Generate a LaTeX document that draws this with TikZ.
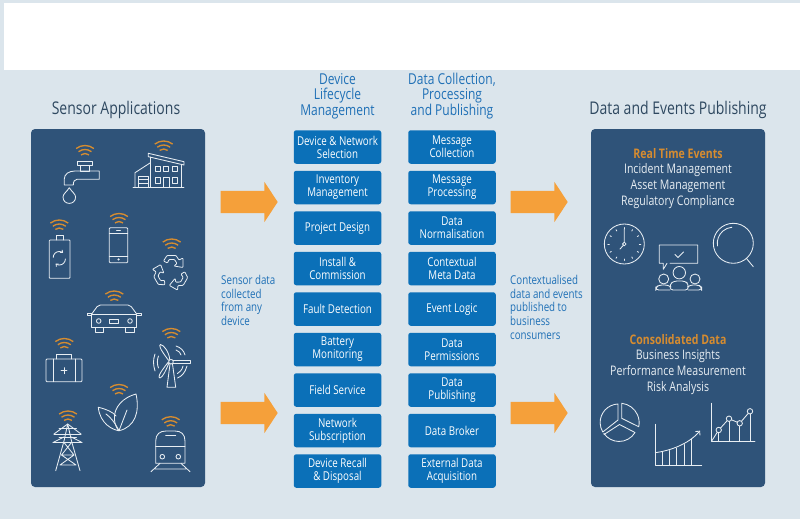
\documentclass[tikz,border=0pt]{standalone}
\usepackage{fontspec}
\setmainfont{Open Sans}[FakeStretch=0.8]
\usepackage{xcolor}
\usetikzlibrary{arrows.meta,positioning,calc,shapes.arrows}
\definecolor{pagebg}{RGB}{219,229,236}
\definecolor{panelblue}{RGB}{47,83,121}
\definecolor{boxblue}{RGB}{11,112,184}
\definecolor{arroworange}{RGB}{245,160,58}
\definecolor{wifiorange}{RGB}{214,140,48}
\definecolor{headblue}{RGB}{31,112,182}
\definecolor{headgrey}{RGB}{46,72,96}
\definecolor{iconline}{RGB}{232,238,243}

\tikzset{
    panel/.style={fill=panelblue, rounded corners=4pt},
    block/.style={fill=boxblue, text=white, rounded corners=2.5pt, minimum width=87.5pt, minimum height=33.5pt,
        inner sep=0pt, align=center, font=\fontsize{12.2}{13}\selectfont},
    heading/.style={text=headblue, align=center, inner sep=0pt, font=\fontsize{15}{15.7}\selectfont},
    bigheading/.style={text=headgrey, inner sep=0pt, font=\fontsize{17.5}{18}\selectfont},
    note/.style={text=headblue, align=left, inner sep=0pt, font=\fontsize{12.2}{13.7}\selectfont},
    paneltext/.style={text=iconline, align=center, inner sep=0pt, font=\fontsize{13.2}{15.9}\selectfont},
    panelhead/.style={text=wifiorange, inner sep=0pt, font=\fontsize{13.2}{15}\selectfont\bfseries},
    blockarrow/.style={single arrow, fill=arroworange, minimum height=57pt, inner xsep=0pt, inner ysep=11pt,
        single arrow head extend=9pt, single arrow tip angle=113},
    icon/.style={draw=iconline, line width=0.85pt, line join=round, line cap=round},
    wifi/.pic={
        \foreach \r in {6.5,10.5,14.5}
            \draw[wifiorange, line width=1.35pt] (232:\r) arc[start angle=232, end angle=308, radius=\r];
    }
}

\begin{document}
\begin{tikzpicture}[x=1pt, y=-1pt]
    \useasboundingbox (0,0) rectangle (800,519);
    \fill[pagebg] (0,0) rectangle (800,519);
    \fill[white] (4,3) rectangle (800,70);

    % outer panels
    \fill[panel] (31,129) rectangle (205,487);
    \fill[panel] (591,129) rectangle (765,487);

    % headings
    \node[bigheading] (sensorhead) at (116,109.5) {Sensor Applications};
    \node[bigheading] (publishhead) at (678,109.5) {Data and Events Publishing};
    \node[heading] (lifehead) at (337.5,96) {Device\\Lifecycle\\Management};
    \node[heading] (datahead) at (452,96) {Data Collection,\\Processing\\and Publishing};

    % lifecycle column
    \foreach \name/\txt [count=\i from 0] in {
        devsel/{Device \& Network\\Selection}, inventory/{Inventory\\Management}, design/{Project Design},
        install/{Install \&\\Commission}, fault/{Fault Detection}, battery/{Battery\\Monitoring},
        field/{Field Service}, network/{Network\\Subscription}, recall/{Device Recall\\\& Disposal}}
        \node[block] (\name) at (337.5,147+40.5*\i) {\txt};

    % data column
    \foreach \name/\txt [count=\i from 0] in {
        msgcol/{Message\\Collection}, msgproc/{Message\\Processing}, norm/{Data\\Normalisation},
        meta/{Contextual\\Meta Data}, logic/{Event Logic}, perm/{Data\\Permissions},
        pub/{Data\\Publishing}, broker/{Data Broker}, ext/{External Data\\Acquisition}}
        \node[block] (\name) at (452,147+40.5*\i) {\txt};

    % big arrows
    \node[blockarrow] (inarrowa) at (245.5,202) {};
    \node[blockarrow] (inarrowb) at (245.5,413) {};
    \node[blockarrow] (outarrowa) at (535.5,202) {};
    \node[blockarrow] (outarrowb) at (535.5,413) {};

    % side notes
    \node[note, anchor=north west] (sensornote) at (221,275) {Sensor data\\collected\\from any\\device};
    \node[note, anchor=north west] (pubnote) at (510,275) {Contextualised\\data and events\\published to\\business\\consumers};

    % right panel text
    \node[panelhead] (rtevents) at (678,154) {Real Time Events};
    \node[paneltext, below=4.2pt of rtevents] (rtlist) {Incident Management\\Asset Management\\Regulatory Compliance};
    \node[panelhead] (consol) at (678,340) {Consolidated Data};
    \node[paneltext, below=4.2pt of consol] (consollist) {Business Insights\\Performance Measurement\\Risk Analysis};

    % wifi marks over the devices
    \foreach \x/\y in {85/160,163.7/155.5,59.3/234.5,119/228,171.7/253.5,114.3/305.5,64.3/353,171.3/343,119/399,68/425.5,170.7/431.2}
        \pic at (\x,\y) {wifi};

    % tap
    \draw[icon] (77.3,161) rectangle (92.7,165);
    \draw[icon] (80,165) rectangle (89,171);
    \draw[icon] (99.3,171) -- (99.3,179.3) -- (77,179.3) .. controls (74.5,179.3) and (73.3,181.5) .. (73.3,185) -- (64.3,185)
        -- (64.3,179) .. controls (64.3,174) and (69,171) .. (75,171) -- cycle;
    \draw[icon] (69.3,187.7) .. controls (67,191.5) and (63,194) .. (63,197) .. controls (63,205.5) and (75.6,205.5) .. (75.6,197)
        .. controls (75.6,194) and (71.6,191.5) .. (69.3,187.7) -- cycle;

    % building
    \draw[icon] (133,187) -- (184,187);
    \draw[icon] (148.3,153.3) -- (184,161.7) -- (184,165) -- (148.3,156.7) -- cycle;
    \draw[icon] (150,157) -- (150,187) (181.7,164.5) -- (181.7,187);
    \draw[icon] (135,187) -- (135,172.7) -- (150,163);
    \draw[icon] (138.3,187) -- (138.3,176) -- (148.3,176) -- (148.3,187) (138.3,179.5) -- (148.3,179.5) (138.3,183.2) -- (148.3,183.2);
    \foreach \x in {155,163.5,172.3} \draw[icon] (\x,166.7) rectangle ++(5,5);
    \draw[icon] (155,177.5) rectangle ++(5,5.5);
    \draw[icon] (172.3,177.5) rectangle ++(5,5.5);
    \draw[icon] (163.3,187) -- (163.3,177.3) -- (169,177.3) -- (169,187);

    % battery
    \draw[icon, rounded corners=0.8pt] (49.3,240) rectangle (70,278.3);
    \draw[icon] (56,240) -- (56,235.7) -- (63.3,235.7) -- (63.3,240);
    \draw[icon, -{Straight Barb[length=2pt,width=3.5pt]}] (53.2,257.5) arc[start angle=180, end angle=310, radius=6];
    \draw[icon, -{Straight Barb[length=2pt,width=3.5pt]}] (65.4,259) arc[start angle=0, end angle=130, radius=6];

    % phone
    \draw[icon, rounded corners=1pt] (109.3,227.7) rectangle (127.7,262.7);
    \draw[icon] (109.3,233.3) -- (127.7,233.3) (109.3,256) -- (127.7,256) (116.5,230.5) -- (120.5,230.5);
    \fill[iconline] (118.6,259.4) circle[radius=1.2];

    % recycling
    \foreach \a in {0,120,240}
        \draw[icon, rounded corners=0.8pt, shift={(171,272.5)}, rotate=\a, line width=0.8pt]
            (-7.5,-11.5) -- (-4,-17) -- (5,-17) -- (8,-12.5) -- (12,-14.5) -- (12,-5) -- (3,-6.5) -- (6,-9) -- (3.5,-13) -- (-2,-13) -- (-3.5,-9.5) -- cycle;

    % car
    \draw[icon] (91.7,314) rectangle (136.7,327.7);
    \draw[icon, rounded corners=2pt] (91.7,314) -- (98.3,305) -- (130,305) -- (136.7,314);
    \draw[icon] (91.7,313.5) -- (87.5,313.5) -- (87.5,315.7) -- (91.7,315.7) (136.7,313.5) -- (141,313.5) -- (141,315.7) -- (136.7,315.7);
    \draw[icon] (95,327.7) -- (95,332.3) -- (103.3,332.3) -- (103.3,327.7) (125,327.7) -- (125,332.3) -- (134,332.3) -- (134,327.7);
    \draw[icon] (98.7,321) circle[radius=2.3] (130,321) circle[radius=2.3];
    \draw[icon] (109.3,319) rectangle (118.7,323.5);

    % first aid case
    \draw[icon, rounded corners=1pt] (46,359) rectangle (82,381.7);
    \draw[icon] (56.7,359) -- (56.7,354) -- (71.7,354) -- (71.7,359) (53.3,359) -- (53.3,381.7) (75,359) -- (75,381.7);
    \draw[icon] (61,370.7) -- (67,370.7) (64,367.7) -- (64,373.7);

    % wind turbine
    \draw[icon] (171,361.7) circle[radius=2.3];
    \draw[icon] (169.8,359.6) .. controls (169,352) and (164,345) .. (160.5,344.5) .. controls (159,345) and (159,348) .. (168.6,360.4);
    \draw[icon] (173.3,360.3) -- (190,360.3) -- (190,363) -- (173.3,363);
    \draw[icon] (169,363) .. controls (166,370) and (163,377) .. (160,378) .. controls (158,377.5) and (158,375) .. (168.4,362);
    \draw[icon] (170,364) -- (167,387.3) -- (175.7,387.3) -- (172.5,364);
    \draw[icon] (155,354) .. controls (153,360) and (153,364) .. (155,371) (158.5,356) .. controls (157,360) and (157,364) .. (158.5,368);
    \draw[icon] (176,346) .. controls (181,347.5) and (184,351) .. (185,355) (176,350) .. controls (179,351) and (180.5,353) .. (181,355);
    \draw[icon] (187,366) .. controls (185,373) and (182,376) .. (177.5,378) (183,366) .. controls (182,370) and (180,372) .. (177.5,373.5);

    % leaves
    \draw[icon] (119,430.7) .. controls (113,430) and (100,424) .. (98.3,407.3) .. controls (106,409) and (113,412) .. (116,416);
    \draw[icon] (119,430.7) .. controls (135,427) and (140,412) .. (136,394) .. controls (124,397) and (113,407) .. (114.5,420) .. controls (115,425) and (117,429) .. (119,430.7) -- cycle;
    \draw[icon] (119,430.7) -- (127,410) (119,430.7) .. controls (114,421) and (110,417) .. (106,414);

    % pylon
    \draw[icon] (55.7,470.7) -- (64,441) -- (67.7,424) -- (71.5,441) -- (80,470.7);
    \draw[icon] (54,434) -- (81,434) (53,442.5) -- (82,442.5) (59,428.5) -- (76.5,428.5) (59,437) -- (76.5,437);
    \draw[icon] (64,442.5) -- (74,455) -- (60,465) (71.5,442.5) -- (61.5,455) -- (76,465) (61.5,455) -- (74,455) (60,465) -- (76,465);
    \draw[icon] (54,434) -- (67.7,424) -- (81,434) (53,442.5) -- (64,437) (82,442.5) -- (71.5,437);

    % train
    \draw[icon] (155.7,463.3) -- (155.7,441) .. controls (155.7,434) and (160,431) .. (166,431) -- (175,431) .. controls (181,431) and (185,434) .. (185,441) -- (185,463.3) -- cycle;
    \draw[icon] (155.7,446.7) -- (185,446.7) (165.7,435.7) -- (175.7,435.7);
    \draw[icon] (162.3,456.7) circle[radius=2.3] (178.3,456.7) circle[radius=2.3];
    \draw[icon] (160,463.3) -- (151,471.7) (181,463.3) -- (190,471.7) (155,469) -- (186,469);

    % clock
    \draw[icon] (624.3,244) circle[radius=20];
    \foreach \a in {0,30,...,330}
        \draw[icon] ($(624.3,244)+(\a:16.5)$) -- ($(624.3,244)+(\a:15)$);
    \draw[icon] (624.3,244) circle[radius=1.8];
    \draw[icon] (624.3,242) -- (624.3,229) (623.2,245.5) -- (620,249);

    % magnifier
    \draw[icon] (733.3,243.3) circle[radius=20];
    \draw[icon] (717.5,246) arc[start angle=170, end angle=265, radius=16];
    \draw[icon] (746.5,258.5) -- (753.3,266.7);

    % speech bubble and people
    \draw[icon] (667,263.3) -- (663.3,269.3) -- (663.3,263.3) -- (659.3,263.3) -- (659.3,245) -- (697.7,245) -- (697.7,263.3) -- (670,263.3);
    \draw[icon] (675,254.5) -- (678,257.5) -- (683.5,252);
    \draw[icon] (679.3,272.7) circle[radius=6.2] (663.7,279) circle[radius=5] (695,279) circle[radius=5];
    \draw[icon, rounded corners=3pt] (670,290) -- (670,284) -- (674,281) -- (685,281) -- (688.3,284) -- (688.3,290) -- cycle;
    \draw[icon, rounded corners=3pt] (670,290) -- (655.7,290) -- (655.7,287.5) -- (659,285) -- (668,285) -- (671,287);
    \draw[icon, rounded corners=3pt] (688.3,290) -- (701.7,290) -- (701.7,287.5) -- (699,285) -- (690,285) -- (687.5,287);

    % pie chart
    \draw[icon] (621.7,403.3) arc[start angle=-84, end angle=12, radius=19.5] -- (621.7,418.3) -- cycle;
    \draw[icon] (618,404) arc[start angle=268, end angle=149, radius=18.5] -- (618,420) -- cycle;
    \draw[icon] (604,434.5) -- (619.5,424.5) -- (635,432.5) arc[start angle=31, end angle=146, radius=18.5];

    % growth chart
    \draw[icon] (655.3,424.3) -- (655.3,465) -- (701.7,465);
    \draw[icon, -{Straight Barb[length=3pt,width=6pt]}] (655.3,452.7) .. controls (668,451) and (688,445) .. (700,430.7);
    \draw[icon] (662.3,452) -- (662.3,465) (669,450.5) -- (669,465) (676.7,448) -- (676.7,465) (684.3,444.5) -- (684.3,465) (691.7,439) -- (691.7,465);

    % line chart
    \draw[icon] (711.7,403.3) -- (711.7,441) -- (755,441);
    \coordinate (pta) at (718.7,430);
    \coordinate (ptb) at (729,418.7);
    \coordinate (ptc) at (739.7,423.3);
    \coordinate (ptd) at (750,411.3);
    \draw[icon] (711.7,441) -- (pta) -- (ptb) -- (ptc) -- (ptd);
    \foreach \p in {pta,ptb,ptc,ptd} {
        \draw[icon] (\p) -- (\p |- 0,441);
        \draw[icon, fill=panelblue] (\p) circle[radius=2.7];
    }
\end{tikzpicture}
\end{document}
